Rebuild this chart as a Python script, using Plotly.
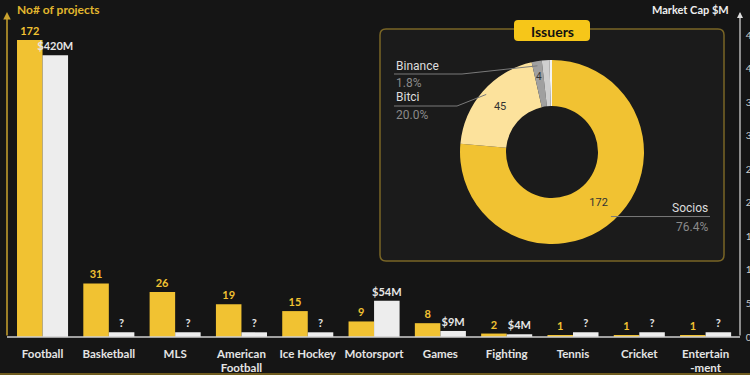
import math
import plotly.graph_objects as go

# ---------------- data ----------------
categories = ["Football", "Basketball", "MLS", "American<br>Football", "Ice Hockey",
              "Motorsport", "Games", "Fighting", "Tennis", "Cricket", "Entertain<br>-ment"]
projects = [172, 31, 26, 19, 15, 9, 8, 2, 1, 1, 1]
market_cap_drawn = [420, 7, 7, 7, 7, 54, 9, 4, 7, 7, 7]   # "?" drawn as small placeholder bars
market_cap_labels = ["$420M", "?", "?", "?", "?", "$54M", "$9M", "$4M", "?", "?", "?"]

issuers = ["Socios", "Bitci", "Binance", "Other", "Unknown"]
issuer_values = [172, 45, 4, 3, 1]
issuer_inner_text = ["172", "45", "", "", ""]
issuer_colors = ["#F1C232", "#FCE29C", "#A0A0A0", "#CFCFCF", "#F4F4F4"]

W, H = 750, 375
def px(x): return x / W
def py(y): return 1 - y / H

YELLOW = "#F1C232"
WHITE = "#EDEDED"
BG = "#151515"

fig = go.Figure()

fig.add_trace(go.Bar(
    x=categories, y=projects, yaxis="y", width=0.385, offset=-0.385,
    marker=dict(color=YELLOW, line=dict(width=0)),
    text=[str(v) for v in projects], textposition="outside",
    textfont=dict(color=YELLOW, size=11, family="Lato", weight="bold"),
    constraintext="none", cliponaxis=False, showlegend=False))

fig.add_trace(go.Bar(
    x=categories, y=market_cap_drawn, yaxis="y2", width=0.385, offset=0,
    marker=dict(color=WHITE, line=dict(width=0)),
    text=market_cap_labels, textposition="outside",
    textfont=dict(color="#E6E6E6", size=11, family="Lato", weight="bold"),
    constraintext="none", cliponaxis=False, showlegend=False))

# ---------------- donut ----------------
cx, cy, R = 552, 152, 92
fig.add_trace(go.Pie(
    labels=issuers, values=issuer_values, hole=0.5, sort=False,
    direction="clockwise", rotation=0,
    marker=dict(colors=issuer_colors, line=dict(width=0)),
    text=issuer_inner_text, textinfo="text", textposition="inside",
    insidetextorientation="horizontal",
    textfont=dict(color="#333333", size=11, family="Roboto"),
    domain=dict(x=[px(cx - R), px(cx + R)], y=[py(cy + R), py(cy - R)]),
    showlegend=False))

total = sum(issuer_values)
cum = 0
mid = {}
mid_angle = {}
for name, v in zip(issuers, issuer_values):
    a = (cum + v / 2) / total * 2 * math.pi
    mid_angle[name] = a
    mid[name] = (cx + 0.95 * R * math.sin(a), cy - 0.95 * R * math.cos(a))
    cum += v
pct = {n: f"{v / total * 100:.1f}%" for n, v in zip(issuers, issuer_values)}

shapes = []
annotations = []

# inset box + title pill (rounded rects via paths)
def rrect(x0, y0, x1, y1, r):
    rx, ry = r / W, r / H
    X0, X1 = px(x0), px(x1)
    Y0, Y1 = py(y0), py(y1)  # Y0 top (larger), Y1 bottom
    return (f"M{X0+rx},{Y0} L{X1-rx},{Y0} Q{X1},{Y0} {X1},{Y0-ry} "
            f"L{X1},{Y1+ry} Q{X1},{Y1} {X1-rx},{Y1} L{X0+rx},{Y1} "
            f"Q{X0},{Y1} {X0},{Y1+ry} L{X0},{Y0-ry} Q{X0},{Y0} {X0+rx},{Y0} Z")

shapes.append(dict(type="path", xref="paper", yref="paper", layer="below",
                   path=rrect(380, 29, 724, 261, 6),
                   fillcolor="#1B1B1B", line=dict(color="#7A6626", width=1.5)))
shapes.append(dict(type="path", xref="paper", yref="paper", layer="above",
                   path=rrect(514, 20, 590, 41, 4),
                   fillcolor="#F6C619", line=dict(width=0)))

def ann(x, y, txt, xanchor, color, size, family="Lato"):
    annotations.append(dict(x=px(x), y=py(y), xref="paper", yref="paper", text=txt,
                            xanchor=xanchor, yanchor="middle", showarrow=False,
                            font=dict(color=color, size=size, family=family)))

ann(552, 31, "<b>Issuers</b>", "center", "#111111", 14)

# value label for the thin Binance slice (placed from its mid angle)
a = mid_angle["Binance"]
ann(cx + 0.83 * R * math.sin(a), cy - 0.83 * R * math.cos(a),
    str(issuer_values[issuers.index("Binance")]), "center", "#333333", 10, "Roboto")

# leader lines and outer labels
LC = "#7A7A7A"
def seg(p0, p1):
    shapes.append(dict(type="line", xref="paper", yref="paper", layer="above",
                       x0=px(p0[0]), y0=py(p0[1]), x1=px(p1[0]), y1=py(p1[1]),
                       line=dict(color=LC, width=1)))

# Socios
s = mid["Socios"]
seg(s, (710, s[1]))
ann(710, s[1] - 9, "Socios", "right", "#DDDDDD", 12, "Roboto")
ann(710, s[1] + 10, pct["Socios"], "right", "#8A8A8A", 12, "Roboto")
# Bitci
b = mid["Bitci"]
seg(b, (457, 106)); seg((457, 106), (394, 106))
ann(394, 97, "Bitci", "left", "#DDDDDD", 12, "Roboto")
ann(394, 115, pct["Bitci"], "left", "#8A8A8A", 12, "Roboto")
# Binance
n = mid["Binance"]
seg(n, (462, 74)); seg((462, 74), (394, 74))
ann(394, 66, "Binance", "left", "#DDDDDD", 12, "Roboto")
ann(394, 83, pct["Binance"], "left", "#8A8A8A", 12, "Roboto")

# axes decorations
shapes.append(dict(type="line", xref="paper", yref="paper", x0=px(7), x1=px(740),
                   y0=py(337), y1=py(337), line=dict(color="#CFCFCF", width=1.5)))
shapes.append(dict(type="line", xref="paper", yref="paper", x0=0, x1=1,
                   y0=py(374), y1=py(374), line=dict(color="#6E5B1E", width=2)))
annotations.append(dict(x=px(7), y=py(12), xref="paper", yref="paper", ax=0, ay=325,
                        axref="pixel", ayref="pixel", text="", showarrow=True,
                        arrowhead=2, arrowsize=1, arrowwidth=1.5, arrowcolor="#C9A22E"))
annotations.append(dict(x=px(740), y=py(12), xref="paper", yref="paper", ax=0, ay=325,
                        axref="pixel", ayref="pixel", text="", showarrow=True,
                        arrowhead=2, arrowsize=1, arrowwidth=1.2, arrowcolor="#DDDDDD"))
ann(15, 10, "<b>No# of projects</b>", "left", "#E2B72E", 12)
ann(731, 10, "<b>Market Cap $M</b>", "right", "#EEEEEE", 11)

fig.update_layout(
    width=W, height=H, margin=dict(l=0, r=0, t=0, b=0, autoexpand=False),
    paper_bgcolor=BG, plot_bgcolor="rgba(0,0,0,0)",
    barmode="overlay",
    xaxis=dict(domain=[0.0125, 0.985], showgrid=False, zeroline=False, showline=False,
               ticks="", ticklabelstandoff=8, automargin=False,
               tickfont=dict(color="#E4E4E4", size=11.5, family="Lato", weight="bold")),
    yaxis=dict(domain=[py(337), py(15)], range=[0, 186.4], showgrid=False, zeroline=False,
               showline=False, showticklabels=False, automargin=False),
    yaxis2=dict(overlaying="y", side="right", anchor="x", range=[0, 480], showgrid=False,
                zeroline=False, showline=False, dtick=50, ticks="", ticklabelstandoff=6,
                automargin=False,
                tickfont=dict(color="#CCCCCC", size=10, family="Lato")),
    shapes=shapes, annotations=annotations,
)

fig.write_html("out.html", config={"displayModeBar": False},
               post_script="document.body.style.margin='0';document.body.style.overflow='hidden';")
